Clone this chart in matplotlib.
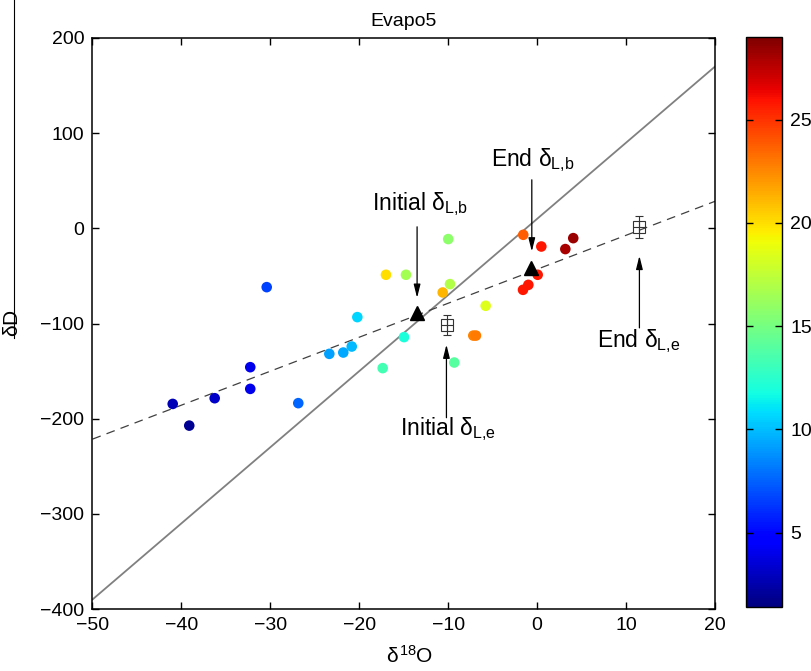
import matplotlib
matplotlib.use('Agg')
import matplotlib.pyplot as plt
from matplotlib.lines import Line2D
import numpy as np

plt.rcParams['font.family'] = ['Liberation Sans', 'DejaVu Sans']
plt.rcParams['mathtext.fontset'] = 'custom'
plt.rcParams['mathtext.rm'] = 'Liberation Sans'
plt.rcParams['mathtext.it'] = 'Liberation Sans'
plt.rcParams['mathtext.bf'] = 'Liberation Sans:bold'

# ---- data ----
d18O = [-40.98, -39.12, -36.26, -32.26, -32.26, -30.41, -26.86, -23.37, -21.80,
        -20.85, -20.22, -14.97, -17.37, -17.00, -14.75, -10.00, -10.62, -9.80,
        -9.32, -5.79, -7.18, -6.88, -1.56, 0.47, 0.06, -0.99, -1.59, 3.17, 4.06]
dD = [-184.5, -207.3, -178.5, -145.9, -168.7, -61.8, -183.7, -131.9, -130.5,
      -124.2, -93.3, -114.3, -146.9, -48.8, -48.8, -11.3, -67.4, -58.6,
      -141.0, -81.4, -112.7, -112.7, -6.8, -19.1, -48.8, -59.4, -64.6, -21.8, -10.3]
temp = [2.8, 1.9, 3.2, 4.0, 4.0, 6.6, 7.6, 9.2, 9.4,
        9.9, 10.6, 12.0, 13.3, 20.0, 16.5, 15.8, 21.2, 17.0,
        14.0, 18.5, 22.7, 22.9, 23.8, 25.8, 25.8, 25.8, 25.8, 28.0, 28.3]

tri_x = [-13.48, -0.69]
tri_y = [-88.5, -41.8]

sq_x = [-10.17, 11.49]
sq_y = [-101.4, 1.3]
sq_err = [10.5, 11.5]

gmwl_slope, gmwl_icpt = 8.0, 10.0
lel_slope, lel_icpt = 3.57, -43.0

xticks = [-50, -40, -30, -20, -10, 0, 10, 20]
yticks = [-400, -300, -200, -100, 0, 100, 200]
cticks = [5, 10, 15, 20, 25]
cmin, cmax = 1.4, 29.0

# ---- figure ----
W, H = 812, 671
fig = plt.figure(figsize=(W / 100, H / 100), dpi=100)
ax = fig.add_axes([92.5 / W, 1 - 609 / H, 622.5 / W, 571 / H])

xl = np.array([-50, 20])
ax.plot(xl, gmwl_slope * xl + gmwl_icpt, color='#808080', lw=1.3, zorder=2)
ax.plot(xl, lel_slope * xl + lel_icpt, color='#404040', lw=0.9,
        dashes=(7, 5), zorder=2)

sc = ax.scatter(d18O, dD, c=temp, cmap='jet', vmin=cmin, vmax=cmax, s=58,
                edgecolors='none', zorder=3)

ax.plot(tri_x, tri_y, linestyle='none', marker='^', color='k', markersize=10,
        zorder=4)
ax.errorbar(sq_x, sq_y, yerr=sq_err, fmt='s', mfc='none', mec='#333333',
            ecolor='#333333', ms=8, mew=0.8, elinewidth=0.8, capsize=3,
            capthick=0.8, zorder=4)
ax.plot(sq_x, sq_y, linestyle='none', marker='+', color='#333333', ms=9,
        mew=0.8, zorder=4)

ax.set_xlim(-50, 20)
ax.set_ylim(-400, 200)
ax.set_xticks(xticks)
ax.set_yticks(yticks)
ax.set_xticklabels([('\u2212' + str(-t)) if t < 0 else str(t) for t in xticks])
ax.set_yticklabels([('\u2212' + str(-t)) if t < 0 else str(t) for t in yticks])
ax.tick_params(direction='in', top=True, right=True, length=5, width=1,
               labelsize=14, pad=6)
for s in ax.spines.values():
    s.set_linewidth(1.1)

ax.set_title('Evapo5', fontsize=14, pad=9)
ax.set_xlabel(r'$\delta^{18}$O', fontsize=15)
ax.xaxis.set_label_coords(0.51, -0.062)
ax.set_ylabel(r'$\delta$D', fontsize=15)
ax.yaxis.set_label_coords(-0.113, 0.5)

arrow_kw = dict(arrowstyle='-|>,head_length=0.8,head_width=0.2', color='k',
                lw=0.9, shrinkA=0, shrinkB=0)
ax.annotate('', xy=(-13.5, -73.0), xytext=(-13.5, 1.6), arrowprops=arrow_kw)
ax.text(-13.2, 19.5, r'Initial $\delta_{\mathrm{L{,}b}}$', fontsize=16.5,
        ha='center', va='baseline')
ax.annotate('', xy=(-0.6, -24.3), xytext=(-0.6, 51), arrowprops=arrow_kw)
ax.text(-0.5, 65.7, r'End $\delta_{\mathrm{L{,}b}}$', fontsize=16.5,
        ha='center', va='baseline')
ax.annotate('', xy=(-10.2, -122.2), xytext=(-10.2, -199), arrowprops=arrow_kw)
ax.text(-10.0, -217, r'Initial $\delta_{\mathrm{L{,}e}}$', fontsize=16.5,
        ha='center', va='baseline')
ax.annotate('', xy=(11.5, -28.9), xytext=(11.5, -104.6), arrowprops=arrow_kw)
ax.text(11.4, -124.6, r'End $\delta_{\mathrm{L{,}e}}$', fontsize=16.5,
        ha='center', va='baseline')

cax = fig.add_axes([746 / W, 1 - 607 / H, 36 / W, 570 / H])
cb = fig.colorbar(sc, cax=cax, ticks=cticks)
cax.tick_params(direction='in', left=True, right=True, length=5, width=1,
                labelsize=14, pad=6)
cb.outline.set_linewidth(1.0)

fig.add_artist(Line2D([14 / W, 14 / W], [1.0, 1 - 338 / H], color='k', lw=0.8))

fig.savefig('out.png', dpi=100)
